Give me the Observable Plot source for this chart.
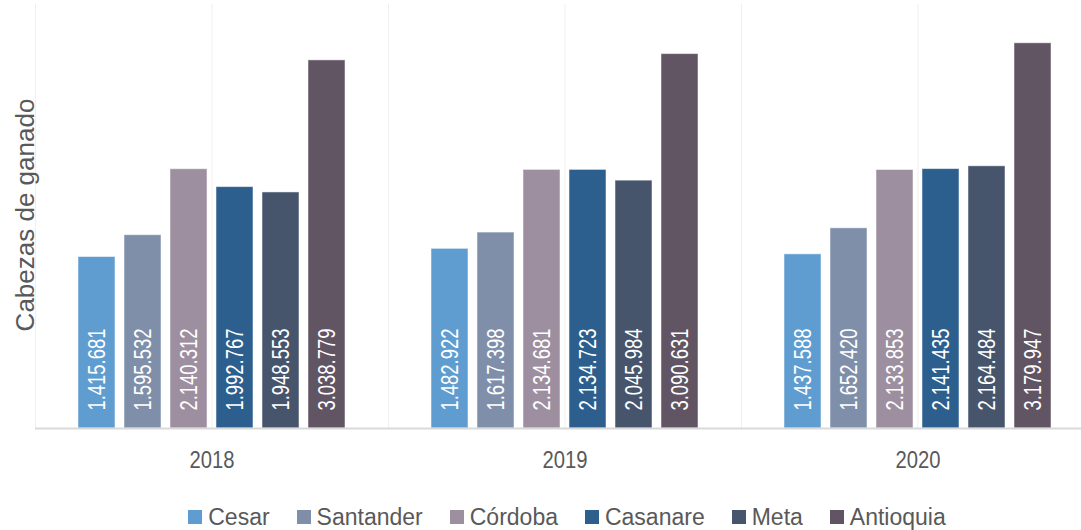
<!DOCTYPE html>
<html>
<head>
<meta charset="utf-8">
<script src="https://cdn.jsdelivr.net/npm/d3@7"></script>
<script src="https://cdn.jsdelivr.net/npm/@observablehq/plot@0.6"></script>
<style>
  html, body { margin: 0; padding: 0; background: #ffffff; overflow: hidden; }
  #wrap { position: relative; width: 1094px; height: 530px; }
  #ytitle {
    position: absolute; left: 25px; top: 215px;
    transform: translate(-50%, -50%) rotate(-90deg);
    font-family: "Liberation Sans", Arial, sans-serif; font-size: 26px; color: #595959;
    white-space: nowrap;
  }
  #legend {
    position: absolute; left: 20px; top: 500px; width: 1094px; height: 34px;
    display: flex; justify-content: center; align-items: center; gap: 27px;
    font-family: "Liberation Sans", Arial, sans-serif; font-size: 23px; color: #595959;
  }
  .item { display: flex; align-items: center; gap: 6px; }
  .sw { width: 14px; height: 14px; display: inline-block; }
</style>
</head>
<body>
<div id="wrap">
  <div id="chart"></div>
  <div id="ytitle">Cabezas de ganado</div>
  <div id="legend"></div>
</div>
<script>
const years = ["2018", "2019", "2020"];
const states = ["Cesar", "Santander", "Córdoba", "Casanare", "Meta", "Antioquia"];
const colors = ["#5f9dd1", "#7f8faa", "#9d8fa0", "#2c5f8e", "#46556c", "#615463"];
const cesar     = [1415681, 1482922, 1437588];
const santander = [1595532, 1617398, 1652420];
const cordoba   = [2140312, 2134681, 2133853];
const casanare  = [1992767, 2134723, 2141435];
const meta      = [1948553, 2045984, 2164484];
const antioquia = [3038779, 3090631, 3179947];

const series = [cesar, santander, cordoba, casanare, meta, antioquia];
const data = [];
years.forEach((y, i) => states.forEach((s, j) => data.push({year: y, state: s, value: series[j][i]})));

const fmt = d3.formatLocale({decimal: ",", thousands: ".", grouping: [3], currency: ["$", ""]}).format(",d");

const chart = Plot.plot({
  width: 1094,
  height: 500,
  marginLeft: 35,
  marginRight: 0,
  marginTop: 4,
  marginBottom: 72,
  fx: {domain: years, paddingInner: 0, paddingOuter: 0, label: null},
  x: {domain: states, paddingInner: 0.2, paddingOuter: 0.88, axis: null},
  y: {domain: [0, 3500000], axis: null},
  color: {domain: states, range: colors},
  style: {background: "transparent"},
  marks: [
    Plot.gridFx({stroke: "#efefef", strokeOpacity: 1, strokeWidth: 1}),
    Plot.frame({anchor: "left", stroke: "#efefef", strokeWidth: 1}),
    Plot.barY(data, {fx: "year", x: "state", y: "value", fill: "state", stroke: "#ffffff", strokeOpacity: 0.5, strokeWidth: 1}),
    Plot.ruleY([0], {stroke: "#d9d9d9", strokeWidth: 2}),
    Plot.text(data, {fx: "year", x: "state", y: 0, text: d => fmt(d.value), rotate: -90, textAnchor: "start", dy: -18,
      fill: "#ffffff", fontSize: 24, fontFamily: "'Liberation Sans', Arial, sans-serif", className: "vlabel"}),
    Plot.axisFx({anchor: "bottom", tickSize: 0, tickPadding: 22, label: null, fontSize: 24,
      fontFamily: "'Liberation Sans', Arial, sans-serif", fill: "#595959", className: "fxaxis"})
  ]
});
document.getElementById("chart").appendChild(chart);

// condense the digit labels to mimic the narrow original typeface
chart.querySelectorAll(".vlabel text").forEach(t => {
  t.setAttribute("textLength", 82);
  t.setAttribute("lengthAdjust", "spacingAndGlyphs");
});
chart.querySelectorAll(".fxaxis text").forEach(t => {
  t.setAttribute("textLength", 45);
  t.setAttribute("lengthAdjust", "spacingAndGlyphs");
});

const legend = document.getElementById("legend");
states.forEach((s, i) => {
  const it = document.createElement("div");
  it.className = "item";
  const sw = document.createElement("span");
  sw.className = "sw";
  sw.style.background = colors[i];
  const t = document.createElement("span");
  t.textContent = s;
  it.appendChild(sw); it.appendChild(t);
  legend.appendChild(it);
});
</script>
</body>
</html>
